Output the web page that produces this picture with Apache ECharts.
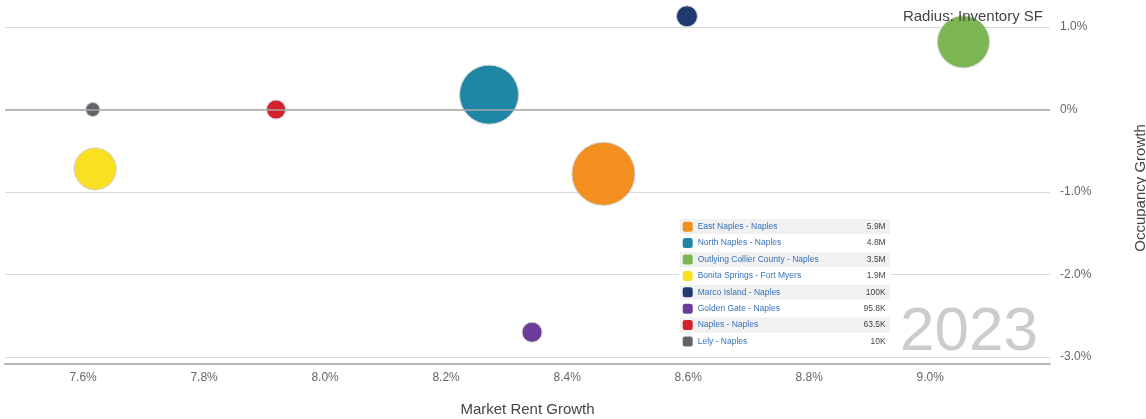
<!DOCTYPE html>
<html>
<head>
<meta charset="utf-8">
<title>Naples Submarkets 2023</title>
<script src="https://cdn.jsdelivr.net/npm/echarts@6/dist/echarts.min.js"></script>
<style>
  html, body { margin: 0; padding: 0; background: #fff; }
  #chart { width: 1146px; height: 419px; }
</style>
</head>
<body>
<div id="chart"></div>
<script>
// Submarkets, in legend order
const regions = [
  'East Naples - Naples',
  'North Naples - Naples',
  'Outlying Collier County - Naples',
  'Bonita Springs - Fort Myers',
  'Marco Island - Naples',
  'Golden Gate - Naples',
  'Naples - Naples',
  'Lely - Naples'
];
// Market rent growth (%), x axis
const rentGrowth = [8.46, 8.271, 9.055, 7.62, 8.598, 8.342, 7.919, 7.616];
// Occupancy growth (%), y axis
const occupancyGrowth = [-0.78, 0.18, 0.82, -0.72, 1.13, -2.70, 0.0, 0.0];
// Inventory (SF), bubble radius
const inventorySF = [5900000, 4800000, 3500000, 1900000, 100000, 95800, 63500, 10000];
// Colours per submarket
const colors = ['#F28F1F', '#1F86A6', '#7BB652', '#FAE022', '#1F3A70', '#6B3C99', '#D3222C', '#606468'];
// Tick labels
const xTicks = [7.6, 7.8, 8.0, 8.2, 8.4, 8.6, 8.8, 9.0];
const yearLabel = '2023';

const FONT = '"Liberation Sans", Arial, Helvetica, sans-serif';
const zMin = Math.min(...inventorySF);
const zMax = Math.max(...inventorySF);
const MIN_D = 14, MAX_D = 63;

// Bubble diameter scaled by area between the smallest and largest inventory
function bubbleSize(val) {
  const pos = (val[2] - zMin) / (zMax - zMin);
  return Math.ceil(MIN_D + Math.sqrt(pos) * (MAX_D - MIN_D));
}

function fmtSF(v) {
  const big = v >= 1e6;
  const n = big ? v / 1e6 : v / 1e3;
  return String(+n.toFixed(1)) + (big ? 'M' : 'K');
}

const series = [{
  // reference line at 0% occupancy growth
  name: 'zero',
  type: 'scatter',
  z: 1,
  data: [],
  markLine: {
    silent: true,
    symbol: 'none',
    label: { show: false },
    lineStyle: { color: '#a8a8a8', width: 1.5, type: 'solid' },
    data: [{ yAxis: 0 }]
  }
}];
regions.forEach((name, i) => {
  series.push({
    name: name,
    type: 'scatter',
    clip: false,
    z: 2,
    symbolSize: bubbleSize,
    itemStyle: { color: colors[i], opacity: 1, borderColor: '#cfcfcf', borderWidth: 1 },
    emphasis: { disabled: true },
    data: [[rentGrowth[i], occupancyGrowth[i], inventorySF[i]]]
  });
});

// Legend table: white box with alternating grey rows
const rowTop = 226.7, rowPitch = 16.4;
const graphic = [{
  type: 'rect', z: 5, silent: true,
  shape: { x: 679, y: 217, width: 212, height: 134 },
  style: { fill: '#fff' }
}];
regions.forEach((_, i) => {
  if (i % 2 === 0) {
    graphic.push({
      type: 'rect', z: 6, silent: true,
      shape: { x: 680, y: rowTop + i * rowPitch - 7.6, width: 210, height: 15.2 },
      style: { fill: '#f1f1f1' }
    });
  }
});
graphic.push({
  type: 'text', z: 20, silent: true,
  x: 1043, y: 17,
  style: { text: 'Radius: Inventory SF', fill: '#444', font: '15px ' + FONT, align: 'right', verticalAlign: 'middle' }
});
graphic.push({
  type: 'text', z: 20, silent: true,
  x: 1038, y: 333,
  style: { text: yearLabel, fill: '#cccccc', font: '62px ' + FONT, align: 'right', verticalAlign: 'middle' }
});

const option = {
  animation: false,
  backgroundColor: '#fff',
  textStyle: { fontFamily: FONT },
  grid: { left: 5, right: 96, top: 27, bottom: 62, outerBoundsMode: 'none' },
  xAxis: {
    type: 'value',
    min: 7.471,
    max: 9.198,
    offset: 7,
    name: 'Market Rent Growth',
    nameLocation: 'middle',
    nameGap: 38,
    nameTextStyle: { color: '#444', fontSize: 15, fontFamily: FONT },
    axisLine: { show: true, onZero: false, lineStyle: { color: '#b5b5b5', width: 2 } },
    axisTick: { show: false },
    splitLine: { show: false },
    axisLabel: {
      customValues: xTicks,
      margin: 8,
      color: '#666',
      fontSize: 12,
      fontFamily: FONT,
      formatter: v => v.toFixed(1) + '%'
    }
  },
  yAxis: {
    type: 'value',
    position: 'right',
    min: -3,
    max: 1,
    interval: 1,
    name: 'Occupancy Growth',
    nameLocation: 'middle',
    nameRotate: 90,
    nameGap: 83,
    nameTextStyle: { color: '#444', fontSize: 15, fontFamily: FONT, padding: [0, 0, 0, 8] },
    axisLine: { show: false },
    axisTick: { show: false },
    splitLine: { show: true, lineStyle: { color: '#dadada', width: 1 } },
    axisLabel: {
      margin: 10,
      color: '#666',
      fontSize: 12,
      fontFamily: FONT,
      formatter: v => (v === 0 ? '0%' : v.toFixed(1) + '%')
    }
  },
  legend: {
    data: regions,
    orient: 'vertical',
    left: 682.7,
    top: 221.7,
    padding: 0,
    z: 10,
    icon: 'roundRect',
    itemWidth: 10,
    itemHeight: 10,
    itemGap: 6.4,
    itemStyle: { borderWidth: 0 },
    selectedMode: false,
    formatter: name => {
      const i = regions.indexOf(name);
      return '{n|' + name + '}{v|' + fmtSF(inventorySF[i]) + '}';
    },
    textStyle: {
      rich: {
        n: { width: 160, fontSize: 8.5, lineHeight: 10, color: '#3572b8', fontFamily: FONT },
        v: { width: 28, align: 'right', fontSize: 8.5, lineHeight: 10, color: '#444', fontFamily: FONT }
      }
    }
  },
  graphic: graphic,
  series: series
};

const chart = echarts.init(document.getElementById('chart'), null, { renderer: 'canvas' });
chart.setOption(option);
</script>
</body>
</html>
